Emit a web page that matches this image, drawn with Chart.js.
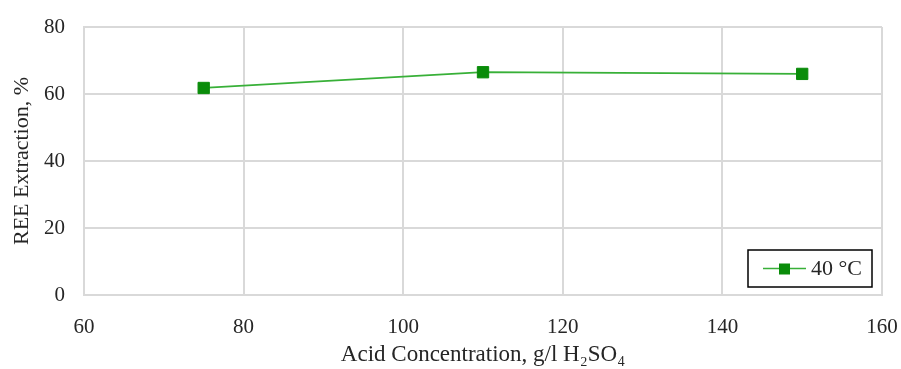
<!DOCTYPE html>
<html>
<head>
<meta charset="utf-8">
<script src="https://cdn.jsdelivr.net/npm/chart.js@4/dist/chart.umd.min.js"></script>
<style>
  html, body { margin: 0; padding: 0; background: #fff; }
  #wrap { width: 901px; height: 369px; }
</style>
</head>
<body>
<div id="wrap"><canvas id="c" width="901" height="369"></canvas></div>
<script>
// Data
const acidConc   = [75, 110, 150];      // g/l H2SO4
const extraction = [61.8, 66.5, 66.0];  // REE extraction, %
const seriesLabel = '40 °C';
const xTicks = [60, 80, 100, 120, 140, 160];
const yTicks = [0, 20, 40, 60, 80];

const FONT = "'Liberation Serif', 'DejaVu Serif', serif";
const TEXT_COL = '#262626';
const LINE_COL = '#38b038';
const MARK_COL = '#0a8c0a';
const GRID_COL = '#d9d9d9';

// Legend box drawn inside the plot, bottom-right
const insideLegend = {
  id: 'insideLegend',
  afterDraw(chart) {
    const { ctx, chartArea } = chart;
    const ds = chart.data.datasets[0];
    const w = 124, h = 37;
    const x = chartArea.right - 10 - w;
    const y = chartArea.bottom - 8 - h;
    ctx.save();
    ctx.fillStyle = '#fff';
    ctx.fillRect(x, y, w, h);
    ctx.strokeStyle = '#000';
    ctx.lineWidth = 1.5;
    ctx.strokeRect(x, y, w, h);
    const cy = y + h / 2;
    ctx.strokeStyle = LINE_COL;
    ctx.lineWidth = 1.5;
    ctx.beginPath();
    ctx.moveTo(x + 15, cy);
    ctx.lineTo(x + 58, cy);
    ctx.stroke();
    ctx.fillStyle = MARK_COL;
    ctx.fillRect(x + 31, cy - 5, 11, 11);
    ctx.fillStyle = TEXT_COL;
    ctx.font = '22px ' + FONT;
    ctx.textBaseline = 'middle';
    ctx.fillText(ds.label, x + 63, cy + 1);
    ctx.restore();
  }
};

new Chart(document.getElementById('c'), {
  type: 'line',
  data: {
    datasets: [{
      label: seriesLabel,
      data: acidConc.map((v, i) => ({ x: v, y: extraction[i] })),
      borderColor: LINE_COL,
      borderWidth: 1.7,
      pointStyle: 'rect',
      pointRadius: 8,
      pointBackgroundColor: MARK_COL,
      pointBorderColor: MARK_COL,
      pointBorderWidth: 1,
      tension: 0,
      fill: false
    }]
  },
  options: {
    responsive: false,
    animation: false,
    layout: { padding: { top: 27, right: 0, left: 0, bottom: 0 } },
    plugins: { legend: { display: false }, tooltip: { enabled: false } },
    scales: {
      x: {
        type: 'linear',
        min: 60, max: 160,
        afterBuildTicks: s => { s.ticks = xTicks.map(v => ({ value: v })); },
        afterFit: s => { s.height = 74; s.paddingRight = 19; },
        grid: { color: GRID_COL, lineWidth: 2, drawTicks: false },
        border: { color: GRID_COL, width: 2 },
        ticks: { color: TEXT_COL, font: { family: FONT, size: 21 }, padding: 20, maxRotation: 0 },
        title: {
          display: true,
          text: 'Acid Concentration, g/l H₂SO₄',
          color: TEXT_COL,
          font: { family: FONT, size: 23 },
          padding: { top: 2, bottom: 0 }
        }
      },
      y: {
        min: 0, max: 80,
        afterBuildTicks: s => { s.ticks = yTicks.map(v => ({ value: v })); },
        afterFit: s => { s.width = 84; s.paddingTop = 4; s.paddingBottom = 0; },
        grid: { color: GRID_COL, lineWidth: 2, drawTicks: false },
        border: { color: GRID_COL, width: 2 },
        ticks: { color: TEXT_COL, font: { family: FONT, size: 21 }, padding: 19 },
        title: {
          display: true,
          text: 'REE Extraction, %',
          color: TEXT_COL,
          font: { family: FONT, size: 22 },
          padding: { top: 9, bottom: 4 }
        }
      }
    }
  },
  plugins: [insideLegend]
});
</script>
</body>
</html>
